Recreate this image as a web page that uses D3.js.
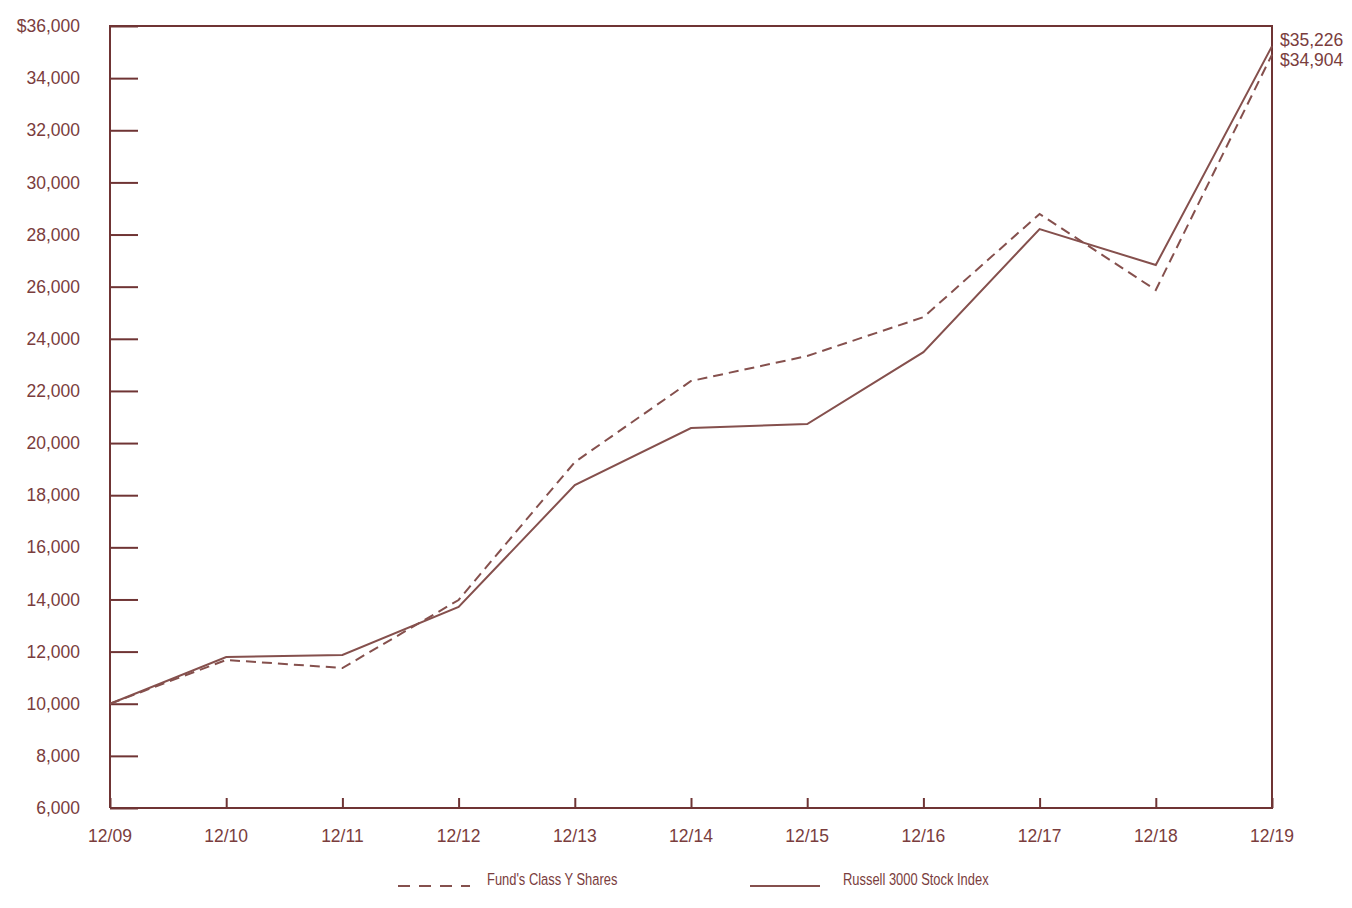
<!DOCTYPE html>
<html><head><meta charset="utf-8">
<script src="https://cdn.jsdelivr.net/npm/d3@7"></script>
<style>body{margin:0;background:#fff}</style>
</head><body>
<svg id="c" width="1352" height="908"></svg>
<script>
const categories = ["12/09","12/10","12/11","12/12","12/13","12/14","12/15","12/16","12/17","12/18","12/19"];
const fundValues = [10000,11680,11370,13980,19270,22380,23340,24830,28790,25870,34904];
const indexValues = [10000,11790,11870,13710,18390,20575,20730,23490,28210,26830,35226];
const yTicks = [6000,8000,10000,12000,14000,16000,18000,20000,22000,24000,26000,28000,30000,32000,34000,36000];
const seriesNames = ["Fund's Class Y Shares","Russell 3000 Stock Index"];

const axisColor = "#6f3434", lineColor = "#85504d", textColor = "#7a3d3d";
const svg = d3.select("#c");
const L=110, R=1272, T=26, B=808;
const x = d3.scalePoint().domain(categories).range([L,R]);
const y = d3.scaleLinear().domain([6000,36000]).range([B,T]);
const font = "'Liberation Sans', Arial, sans-serif";
const fs = 17.5;

// y axis (ticks inward)
const ya = svg.append("g").attr("transform",`translate(${L},0)`)
  .call(d3.axisRight(y).tickValues(yTicks).tickSize(28).tickFormat(""));
ya.select(".domain").remove();
ya.selectAll("line").attr("stroke",axisColor).attr("stroke-width",2);
svg.append("g").selectAll("text").data(yTicks).join("text")
  .attr("x",80).attr("y",d=>y(d)).attr("dy","0.35em").attr("text-anchor","end")
  .attr("font-family",font).attr("font-size",fs).attr("fill",textColor)
  .text(d=> d===36000 ? "$"+d3.format(",")(d) : d3.format(",")(d));

// x axis (ticks upward)
const xa = svg.append("g").attr("transform",`translate(0,${B})`)
  .call(d3.axisTop(x).tickSize(10).tickFormat(""));
xa.select(".domain").remove();
xa.selectAll("line").attr("stroke",axisColor).attr("stroke-width",2);
svg.append("g").selectAll("text").data(categories).join("text")
  .attr("x",d=>x(d)).attr("y",B+28).attr("dy","0.35em").attr("text-anchor","middle")
  .attr("font-family",font).attr("font-size",fs).attr("fill",textColor).text(d=>d);

// frame
svg.append("path").attr("d",`M${L},${B}V${T}H${R}V${B}H${L}`)
  .attr("fill","none").attr("stroke",axisColor).attr("stroke-width",2);

const line = d3.line().x((d,i)=>x(categories[i])).y(d=>y(d));
svg.append("path").datum(indexValues).attr("d",line).attr("fill","none")
  .attr("stroke",lineColor).attr("stroke-width",2);
svg.append("path").datum(fundValues).attr("d",line).attr("fill","none")
  .attr("stroke",lineColor).attr("stroke-width",2).attr("stroke-dasharray","10,6");

// end labels
svg.append("text").attr("x",R+8).attr("y",40).attr("dy","0.35em")
  .attr("font-family",font).attr("font-size",fs).attr("fill",textColor)
  .text("$"+d3.format(",")(indexValues[indexValues.length-1]));
svg.append("text").attr("x",R+8).attr("y",60).attr("dy","0.35em")
  .attr("font-family",font).attr("font-size",fs).attr("fill",textColor)
  .text("$"+d3.format(",")(fundValues[fundValues.length-1]));

// legend
const lg = svg.append("g");
lg.append("line").attr("x1",398).attr("x2",470).attr("y1",886).attr("y2",886)
  .attr("stroke",lineColor).attr("stroke-width",2).attr("stroke-dasharray","12,9");
lg.append("text").attr("transform","translate(487,879) scale(0.76,1)").attr("dy","0.35em")
  .attr("font-family",font).attr("font-size",17)
  .attr("fill",textColor).text(seriesNames[0]);
lg.append("line").attr("x1",750).attr("x2",820).attr("y1",886).attr("y2",886)
  .attr("stroke",lineColor).attr("stroke-width",2);
lg.append("text").attr("transform","translate(843,879) scale(0.76,1)").attr("dy","0.35em")
  .attr("font-family",font).attr("font-size",17)
  .attr("fill",textColor).text(seriesNames[1]);
</script>
</body></html>
